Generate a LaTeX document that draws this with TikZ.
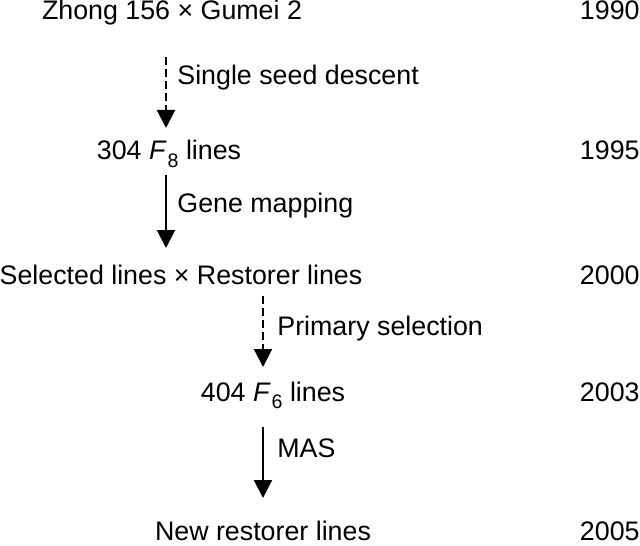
\documentclass[tikz,border=0pt]{standalone}
\usepackage{fontspec}
\setmainfont{Liberation Sans}
\usetikzlibrary{arrows.meta}

\newcommand{\gen}[1]{\textit{F}\kern0.5pt\raisebox{-0.5ex}{\fontsize{9.8}{10}\selectfont #1}}

\tikzset{
  stage/.style={anchor=base, inner sep=0pt, font=\fontsize{13.4}{15}\selectfont},
  year/.style={anchor=base east, inner sep=0pt, font=\fontsize{13.4}{15}\selectfont},
  method/.style={anchor=base west, inner sep=0pt, font=\fontsize{13.4}{15}\selectfont},
  flow/.style={line width=1pt, -{Triangle[width=9pt,length=9pt]}},
  guess/.style={flow, dash pattern=on 4pt off 2pt}
}

\begin{document}
\begin{tikzpicture}[x=0.5pt, y=-0.5pt]
  \useasboundingbox (0,0) rectangle (640,545);

  % stages of the breeding scheme
  \node[stage] (cross)     at (172,20)  {Zhong 156 × Gumei 2};
  \node[stage] (ril)       at (169,160) {304 \gen{8} lines};
  \node[stage] (testcross) at (181,284) {Selected lines × Restorer lines};
  \node[stage] (f6)        at (273,401) {404 \gen{6} lines};
  \node[stage] (restorer)  at (263,540) {New restorer lines};

  % years
  \node[year] (y1) at (640,20)  {1990};
  \node[year] (y2) at (640,160) {1995};
  \node[year] (y3) at (640,284) {2000};
  \node[year] (y4) at (640,401) {2003};
  \node[year] (y5) at (640,540) {2005};

  % arrow ends
  \coordinate (s1) at (166,57);  \coordinate (e1) at (166,128);
  \coordinate (s2) at (166,175); \coordinate (e2) at (166,248);
  \coordinate (s3) at (263,296); \coordinate (e3) at (263,367);
  \coordinate (s4) at (263,427); \coordinate (e4) at (263,498);

  \draw[guess] (s1) -- (e1);
  \draw[flow]  (s2) -- (e2);
  \draw[guess] (s3) -- (e3);
  \draw[flow]  (s4) -- (e4);

  % methods
  \node[method] (ssd) at (177,85)  {Single seed descent};
  \node[method] (map) at (177,212) {Gene mapping};
  \node[method] (sel) at (277,335) {Primary selection};
  \node[method] (mas) at (277,457) {MAS};
\end{tikzpicture}
\end{document}
